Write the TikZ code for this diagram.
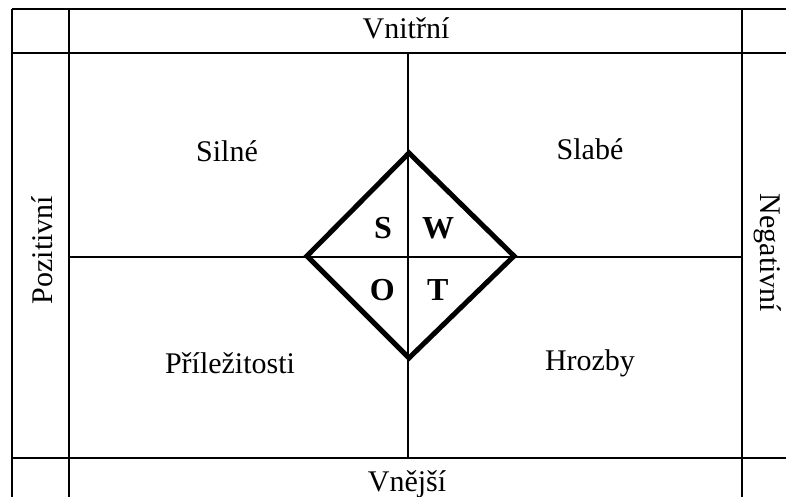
\documentclass[tikz,border=0pt]{standalone}
\usepackage{fontspec}
\setmainfont{Liberation Serif}
\usepackage{tikz}

\begin{document}
\begin{tikzpicture}[
    x=1pt, y=-1pt,
    grid/.style={draw, line width=1.6pt},
    swot/.style={draw, line width=5pt, line join=miter},
    label/.style={font=\fontsize{30}{36}\selectfont, anchor=base, inner sep=0pt},
    letter/.style={font=\fontsize{32}{38}\selectfont\bfseries, inner sep=0pt}
  ]
    \useasboundingbox (0,0) rectangle (786,497);
    % table lines
    \draw[grid] (12,9) -- (786,9);
    \draw[grid] (12,53) -- (786,53);
    \draw[grid] (12,458) -- (786,458);
    \draw[grid] (12,9) -- (12,497);
    \draw[grid] (69,9) -- (69,497);
    \draw[grid] (742,9) -- (742,497);
    \draw[grid] (408,53) -- (408,458);
    \draw[grid] (69,257) -- (742,257);

    % diamond
    \coordinate (top) at (409,153);
    \coordinate (right) at (514,256);
    \coordinate (bottom) at (409,358);
    \coordinate (left) at (307,256);
    \draw[swot] (top) -- (right) -- (bottom) -- (left) -- cycle;

    \node[letter, anchor=base east] (s) at (392,238) {S};
    \node[letter, anchor=base west] (w) at (422,238) {W};
    \node[letter, anchor=base east] (o) at (395,300) {O};
    \node[letter, anchor=base west] (t) at (427,300) {T};

    % headings
    \node[label] (vnitrni) at (406,39) {Vnitřní};
    \node[label] (vnejsi) at (407,491) {Vnější};
    \node[label, rotate=90] (pozitivni) at (52,250) {Pozitivní};
    \node[label, rotate=-90] (negativni) at (760,253) {Negativní};

    % quadrants
    \node[label] (silne) at (227,161) {Silné};
    \node[label] (slabe) at (590,160) {Slabé};
    \node[label] (prilezitosti) at (230,373) {Příležitosti};
    \node[label] (hrozby) at (590,370) {Hrozby};
  \end{tikzpicture}
\end{document}
